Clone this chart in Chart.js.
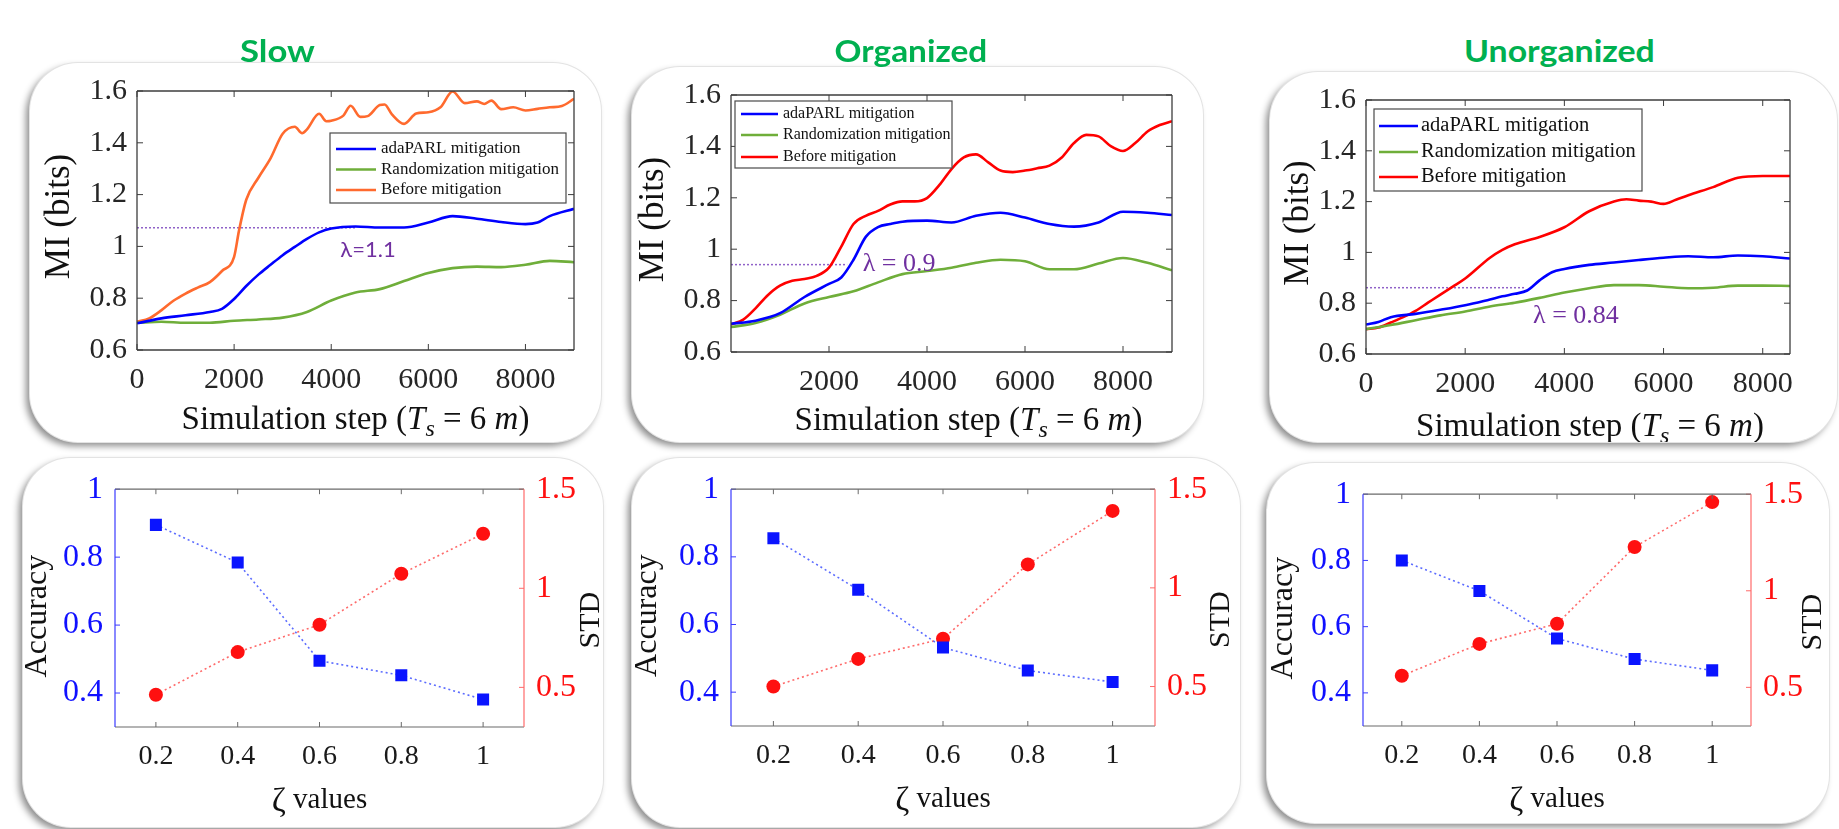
<!DOCTYPE html>
<html>
<head>
<meta charset="utf-8">
<title>MI and accuracy panels</title>
<script src="https://cdn.jsdelivr.net/npm/chart.js@4.4.1/dist/chart.umd.min.js"></script>
<style>
  html, body { margin: 0; background: #fff; }
  body { position: relative; width: 1839px; height: 829px; overflow: hidden; }
  .panel { position: absolute; background: #fff; border-radius: 48px; overflow: hidden;
           box-shadow: 0 0 0 1px #e3e3e3, -4px 4px 7px rgba(0,0,0,0.45); }
  .panel canvas { position: absolute; left: 0; top: 0; }
  .title { position: absolute; font: 700 31px Lato, sans-serif; color: #00B050; white-space: nowrap; transform-origin: center; }
</style>
</head>
<body>
<script>
const SERIF = "'Liberation Serif', serif";
Chart.defaults.font.family = SERIF;
Chart.defaults.color = '#262626';

// ---- top row: MI (bits) against simulation step ----
// Slow
const slowAdaSteps = [0, 500, 1000, 1500, 1750, 2000, 2250, 2500, 2750, 3000, 3250, 3500, 3750, 4000, 4500, 5000, 5500, 6000, 6500, 7000, 7500, 8000, 8250, 8500, 9000];
const slowAdaMI = [0.703, 0.722, 0.734, 0.747, 0.759, 0.797, 0.847, 0.891, 0.929, 0.966, 0.998, 1.029, 1.054, 1.069, 1.077, 1.073, 1.073, 1.092, 1.117, 1.107, 1.094, 1.086, 1.092, 1.117, 1.145];
const slowRndSteps = [0, 500, 1000, 1500, 2000, 2500, 3000, 3500, 4000, 4500, 5000, 5500, 6000, 6500, 7000, 7500, 8000, 8500, 9000];
const slowRndMI = [0.705, 0.709, 0.705, 0.705, 0.713, 0.718, 0.725, 0.747, 0.791, 0.822, 0.835, 0.866, 0.897, 0.916, 0.922, 0.92, 0.929, 0.944, 0.939];
const slowBeforeSteps = [0, 250, 500, 750, 1000, 1250, 1500, 1750, 2000, 2100, 2250, 2500, 2750, 3000, 3250, 3400, 3500, 3750, 3900, 4000, 4250, 4400, 4600, 4750, 5000, 5100, 5250, 5500, 5750, 6000, 6250, 6500, 6750, 7000, 7150, 7300, 7500, 7750, 8000, 8250, 8500, 8750, 9000];
const slowBeforeMI = [0.709, 0.722, 0.753, 0.79, 0.818, 0.841, 0.862, 0.905, 0.96, 1.06, 1.18, 1.265, 1.34, 1.435, 1.462, 1.437, 1.452, 1.512, 1.483, 1.485, 1.505, 1.543, 1.5, 1.503, 1.546, 1.548, 1.51, 1.473, 1.513, 1.518, 1.537, 1.598, 1.553, 1.56, 1.55, 1.563, 1.53, 1.537, 1.525, 1.531, 1.537, 1.542, 1.57];

// Organized
const orgAdaSteps = [0, 500, 1000, 1500, 2000, 2250, 2500, 2750, 3000, 3250, 3500, 4000, 4500, 5000, 5500, 6000, 6500, 7000, 7500, 8000, 8500, 9000];
const orgAdaMI = [0.71, 0.722, 0.751, 0.814, 0.865, 0.89, 0.959, 1.048, 1.086, 1.098, 1.107, 1.111, 1.104, 1.13, 1.142, 1.123, 1.098, 1.088, 1.104, 1.146, 1.142, 1.133];
const orgRndSteps = [0, 500, 1000, 1500, 2000, 2500, 3000, 3500, 4000, 4500, 5000, 5500, 6000, 6500, 7000, 7500, 8000, 8500, 9000];
const orgRndMI = [0.697, 0.713, 0.745, 0.789, 0.814, 0.836, 0.871, 0.903, 0.915, 0.928, 0.947, 0.959, 0.953, 0.922, 0.922, 0.944, 0.966, 0.947, 0.918];
const orgBeforeSteps = [0, 250, 500, 750, 1000, 1250, 1500, 1750, 2000, 2250, 2500, 2750, 3000, 3250, 3500, 3750, 4000, 4250, 4500, 4750, 5000, 5250, 5500, 5750, 6000, 6250, 6500, 6750, 7000, 7250, 7500, 7750, 8000, 8250, 8500, 8750, 9000];
const orgBeforeMI = [0.707, 0.726, 0.77, 0.821, 0.858, 0.877, 0.884, 0.896, 0.928, 1.01, 1.098, 1.13, 1.149, 1.174, 1.186, 1.186, 1.199, 1.249, 1.312, 1.357, 1.369, 1.338, 1.306, 1.3, 1.306, 1.315, 1.325, 1.357, 1.413, 1.445, 1.439, 1.401, 1.382, 1.413, 1.458, 1.483, 1.498];

// Unorganized
const unorgAdaSteps = [0, 250, 500, 1000, 1500, 2000, 2500, 2750, 3000, 3250, 3500, 3750, 4000, 4500, 5000, 5500, 6000, 6500, 7000, 7500, 8000, 8550];
const unorgAdaMI = [0.716, 0.726, 0.745, 0.758, 0.774, 0.792, 0.815, 0.827, 0.837, 0.85, 0.89, 0.922, 0.935, 0.951, 0.96, 0.97, 0.979, 0.985, 0.981, 0.988, 0.985, 0.976];
const unorgRndSteps = [0, 500, 1000, 1500, 2000, 2500, 3000, 3500, 4000, 4500, 5000, 5500, 6000, 6500, 7000, 7500, 8000, 8550];
const unorgRndMI = [0.698, 0.714, 0.733, 0.752, 0.767, 0.787, 0.802, 0.821, 0.842, 0.859, 0.871, 0.871, 0.865, 0.859, 0.861, 0.869, 0.869, 0.868];
const unorgBeforeSteps = [0, 250, 500, 750, 1000, 1250, 1500, 1750, 2000, 2500, 2750, 3000, 3500, 4000, 4500, 5000, 5250, 5500, 5750, 6000, 6250, 6500, 7000, 7500, 8000, 8550];
const unorgBeforeMI = [0.698, 0.704, 0.724, 0.745, 0.77, 0.802, 0.834, 0.865, 0.897, 0.979, 1.01, 1.032, 1.061, 1.099, 1.162, 1.2, 1.209, 1.204, 1.2, 1.191, 1.207, 1.225, 1.257, 1.294, 1.301, 1.301];

const stepMax = [9000, 9000, 8550];
const lambdaLevel = [1.072, 0.94, 0.861];
const lambdaEnd = [4500, 2370, 3210];
const lambdaText = ['λ=1.1', 'λ = 0.9', 'λ = 0.84'];
const lambdaSpot = [[4757, 0.985], [3430, 0.943], [4234, 0.747]];

// ---- bottom row: accuracy and STD against zeta ----
const zeta = [0.2, 0.4, 0.6, 0.8, 1];
const slowAccuracy = [0.895, 0.784, 0.495, 0.452, 0.381];
const slowStd = [0.463, 0.678, 0.816, 1.073, 1.275];
const orgAccuracy = [0.855, 0.703, 0.532, 0.464, 0.43];
const orgStd = [0.5, 0.64, 0.742, 1.119, 1.39];
const unorgAccuracy = [0.8, 0.708, 0.564, 0.502, 0.468];
const unorgStd = [0.56, 0.725, 0.829, 1.227, 1.459];

// ---- ticks and labels ----
const miTicks = [0.6, 0.8, 1, 1.2, 1.4, 1.6];
const stepTicks = [[0, 2000, 4000, 6000, 8000], [2000, 4000, 6000, 8000], [0, 2000, 4000, 6000, 8000]];
const zetaTicks = [0.2, 0.4, 0.6, 0.8, 1];
const accTicks = [0.4, 0.6, 0.8, 1];
const stdTicks = [0.5, 1, 1.5];
const seriesNames = ['adaPARL mitigation', 'Randomization mitigation', 'Before mitigation'];
const panelTitles = ['Slow', 'Organized', 'Unorganized'];

const miSeries = [
  { ada: [slowAdaSteps, slowAdaMI], rnd: [slowRndSteps, slowRndMI], before: [slowBeforeSteps, slowBeforeMI], beforeColor: '#ff6a2e' },
  { ada: [orgAdaSteps, orgAdaMI], rnd: [orgRndSteps, orgRndMI], before: [orgBeforeSteps, orgBeforeMI], beforeColor: '#ff0000' },
  { ada: [unorgAdaSteps, unorgAdaMI], rnd: [unorgRndSteps, unorgRndMI], before: [unorgBeforeSteps, unorgBeforeMI], beforeColor: '#ff0000' }
];
const zetaSeries = [[slowAccuracy, slowStd], [orgAccuracy, orgStd], [unorgAccuracy, unorgStd]];

// ---- layout (page pixels: left, top, right, bottom) ----
const topLayout = [
  { box: [30, 63, 601, 442], plot: [137, 85, 574, 350], yTitleDx: -77, xTitleDx: 0, xTitleDy: 70,
    legend: { dx: 193, dy: 42, w: 236, h: 70, rows: [16, 36.5, 57], x0: 6, x1: 46, tx: 51, size: 17 } },
  { box: [632, 67, 1203, 442], plot: [731, 87, 1172, 352], yTitleDx: -77, xTitleDx: 17, xTitleDy: 69,
    legend: { dx: 4, dy: 6, w: 217, h: 67, rows: [13, 34, 56], x0: 6, x1: 43, tx: 48, size: 16 } },
  { box: [1270, 72, 1837, 442], plot: [1366, 89, 1790, 354], yTitleDx: -67, xTitleDx: 12, xTitleDy: 73,
    legend: { dx: 8, dy: 9, w: 268, h: 82, rows: [17, 43, 68], x0: 5, x1: 44, tx: 47, size: 20.5 } }
];
const bottomLayout = [
  { box: [23, 458, 603, 827], plot: [115, 481, 524, 727], accDx: -77, stdDx: 67 },
  { box: [632, 458, 1240, 827], plot: [731, 486, 1155, 726], accDx: -83, stdDx: 66 },
  { box: [1267, 463, 1829, 823], plot: [1363, 483, 1751, 726], accDx: -79, stdDx: 62 }
];
const titleCenters = [277, 911, 1559];
const titleWidths = [75, 153, 191];

const pts = (xs, ys) => xs.map((x, i) => ({ x, y: ys[i] }));
const fixTicks = list => s => { s.ticks = list.map(v => ({ value: v })); };
const serifFont = size => ({ family: SERIF, size });

const anchorX = (a, k) => k === 'left' ? a.left : k === 'right' ? a.right : (a.left + a.right) / 2;
const anchorY = (a, k) => k === 'top' ? a.top : k === 'bottom' ? a.bottom : (a.top + a.bottom) / 2;

// frame, inward ticks, legend box and free text
const decor = {
  id: 'decor',
  afterDraw(chart) {
    const d = chart.canvas.decor;
    if (!d) return;
    const { ctx, chartArea: a, scales } = chart;
    const seg = (color, w, x1, y1, x2, y2) => {
      ctx.save();
      ctx.strokeStyle = color; ctx.lineWidth = w;
      ctx.beginPath(); ctx.moveTo(x1, y1); ctx.lineTo(x2, y2); ctx.stroke();
      ctx.restore();
    };
    const tl = d.tickLen;
    scales.x.ticks.forEach(t => {
      const px = scales.x.getPixelForValue(t.value);
      seg(d.frame, 1, px, a.top, px, a.top + tl);
      seg(d.frame, 1, px, a.bottom, px, a.bottom - tl);
    });
    scales.y.ticks.forEach(t => {
      const py = scales.y.getPixelForValue(t.value);
      seg(d.left, 1, a.left, py, a.left + tl, py);
      if (!scales.y2) seg(d.right, 1, a.right, py, a.right - tl, py);
    });
    if (scales.y2) scales.y2.ticks.forEach(t => {
      const py = scales.y2.getPixelForValue(t.value);
      seg(d.right, 1, a.right, py, a.right - tl, py);
    });
    seg(d.frame, d.fw, a.left, a.top, a.right, a.top);
    seg(d.frame, d.fw, a.left, a.bottom, a.right, a.bottom);
    seg(d.left, d.fw, a.left, a.top, a.left, a.bottom);
    seg(d.right, d.fw, a.right, a.top, a.right, a.bottom);

    if (d.legend) {
      const L = d.legend;
      const lx = a.left + L.dx, ly = a.top + L.dy;
      ctx.save();
      ctx.fillStyle = '#fff'; ctx.fillRect(lx, ly, L.w, L.h);
      ctx.strokeStyle = '#4a4a4a'; ctx.lineWidth = 1.2; ctx.strokeRect(lx, ly, L.w, L.h);
      ctx.restore();
      chart.data.datasets.slice(0, 3).forEach((ds, i) => {
        const yy = ly + L.rows[i];
        seg(ds.borderColor, 2.5, lx + L.x0, yy, lx + L.x1, yy);
        ctx.save();
        ctx.fillStyle = '#111'; ctx.font = L.size + 'px ' + SERIF;
        ctx.textAlign = 'left'; ctx.textBaseline = 'middle';
        ctx.fillText(ds.label, lx + L.tx, yy);
        ctx.restore();
      });
    }
    if (d.note) {
      ctx.save();
      ctx.fillStyle = d.note.color; ctx.font = d.note.font;
      ctx.textAlign = 'center'; ctx.textBaseline = 'middle';
      ctx.fillText(d.note.text, scales.x.getPixelForValue(d.note.x), scales.y.getPixelForValue(d.note.y));
      ctx.restore();
    }
    (d.texts || []).forEach(t => {
      ctx.save();
      ctx.translate(anchorX(a, t.ax) + t.dx, anchorY(a, t.ay) + t.dy);
      if (t.rot) ctx.rotate(t.rot);
      ctx.fillStyle = t.color || '#111';
      ctx.textBaseline = 'middle'; ctx.textAlign = 'left';
      let total = 0;
      t.parts.forEach(p => { ctx.font = p.font; p.w = ctx.measureText(p.text).width; total += p.w; });
      let x = -total / 2;
      t.parts.forEach(p => { ctx.font = p.font; ctx.fillText(p.text, x, p.dy || 0); x += p.w; });
      ctx.restore();
    });
  }
};

function makePanel(lay) {
  const [l, t, r, b] = lay.box;
  const div = document.createElement('div');
  div.className = 'panel';
  Object.assign(div.style, { left: l + 'px', top: t + 'px', width: (r - l) + 'px', height: (b - t) + 'px' });
  const cv = document.createElement('canvas');
  cv.width = r - l; cv.height = b - t;
  div.appendChild(cv);
  document.body.appendChild(div);
  const p = lay.plot;
  return { cv, pad: { left: p[0] - l, top: p[1] - t, right: r - p[2], bottom: b - p[3] } };
}

const simTitle = sz => [
  { text: 'Simulation step (', font: `${sz}px ${SERIF}` },
  { text: 'T', font: `italic ${sz}px ${SERIF}` },
  { text: 's', font: `italic ${Math.round(sz * 0.72)}px ${SERIF}`, dy: sz * 0.28 },
  { text: ' = 6 ', font: `${sz}px ${SERIF}` },
  { text: 'm', font: `italic ${sz}px ${SERIF}` },
  { text: ')', font: `${sz}px ${SERIF}` }
];

function miChart(i) {
  const lay = topLayout[i];
  const s = miSeries[i];
  const { cv, pad } = makePanel(lay);
  cv.decor = {
    tickLen: 6, fw: 1.3, frame: '#3c3c3c', left: '#3c3c3c', right: '#3c3c3c',
    legend: lay.legend,
    note: { text: lambdaText[i], x: lambdaSpot[i][0], y: lambdaSpot[i][1], color: '#7030a0',
            font: i === 0 ? '22px Lato, sans-serif' : `26px ${SERIF}` },
    texts: [
      { parts: [{ text: 'MI (bits)', font: `35px ${SERIF}` }], ax: 'left', dx: lay.yTitleDx, ay: 'mid', dy: -4, rot: -Math.PI / 2 },
      { parts: simTitle(33), ax: 'center', dx: lay.xTitleDx, ay: 'bottom', dy: lay.xTitleDy }
    ]
  };
  const line = (label, xy, color) => ({
    label, data: pts(xy[0], xy[1]), borderColor: color, borderWidth: 2.6,
    pointRadius: 0, fill: false, cubicInterpolationMode: 'monotone'
  });
  return new Chart(cv, {
    type: 'line',
    data: {
      datasets: [
        line(seriesNames[0], s.ada, '#0000ff'),
        line(seriesNames[1], s.rnd, '#6fae3a'),
        line(seriesNames[2], s.before, s.beforeColor),
        { label: 'lambda', data: [{ x: 0, y: lambdaLevel[i] }, { x: lambdaEnd[i], y: lambdaLevel[i] }],
          borderColor: '#9062c8', borderWidth: 1.5, borderDash: [2, 2], pointRadius: 0, tension: 0 }
      ]
    },
    options: {
      responsive: false, animation: false, events: [],
      font: { family: SERIF },
      layout: { padding: { left: 0, top: pad.top, right: pad.right, bottom: 0 } },
      scales: {
        x: {
          type: 'linear', min: 0, max: stepMax[i],
          afterBuildTicks: fixTicks(stepTicks[i]),
          afterFit: sc => { sc.height = pad.bottom; },
          grid: { display: false, drawTicks: false, tickLength: 0 }, border: { display: false },
          ticks: { padding: 12, maxRotation: 0, autoSkip: false, color: '#262626', font: serifFont(30), callback: v => String(v) }
        },
        y: {
          min: 0.6, max: 1.6,
          afterBuildTicks: fixTicks(miTicks),
          afterFit: sc => { sc.width = pad.left; },
          grid: { display: false, drawTicks: false, tickLength: 0 }, border: { display: false },
          ticks: { padding: 10, color: '#262626', font: serifFont(30), callback: v => String(v) }
        }
      },
      plugins: { legend: { display: false }, tooltip: { enabled: false } }
    },
    plugins: [decor]
  });
}

function zetaChart(i) {
  const lay = bottomLayout[i];
  const [acc, std] = zetaSeries[i];
  const { cv, pad } = makePanel(lay);
  cv.decor = {
    tickLen: 5, fw: 1.2, frame: '#6a6a6a', left: '#3a3aff', right: '#ff6a6a',
    texts: [
      { parts: [{ text: 'Accuracy', font: `32px ${SERIF}` }], ax: 'left', dx: lay.accDx, ay: 'mid', dy: 8, rot: -Math.PI / 2 },
      { parts: [{ text: 'STD', font: `30px ${SERIF}` }], ax: 'right', dx: lay.stdDx, ay: 'mid', dy: 12, rot: -Math.PI / 2 },
      { parts: [{ text: 'ζ', font: `34px ${SERIF}`, dy: 2 }, { text: ' values', font: `29px ${SERIF}` }], ax: 'center', dx: 0, ay: 'bottom', dy: 73 }
    ]
  };
  return new Chart(cv, {
    type: 'line',
    data: {
      datasets: [
        { label: 'Accuracy', data: pts(zeta, acc), yAxisID: 'y', borderColor: '#5c6cff', borderWidth: 1.6,
          borderDash: [2, 3], tension: 0, pointStyle: 'rect', pointRadius: 8.5,
          pointBackgroundColor: '#0a14ff', pointBorderWidth: 0 },
        { label: 'STD', data: pts(zeta, std), yAxisID: 'y2', borderColor: '#ff6a6a', borderWidth: 1.6,
          borderDash: [2, 3], tension: 0, pointStyle: 'circle', pointRadius: 7,
          pointBackgroundColor: '#ff1010', pointBorderWidth: 0 }
      ]
    },
    options: {
      responsive: false, animation: false, events: [],
      layout: { padding: { left: 0, top: pad.top, right: 0, bottom: 0 } },
      scales: {
        x: {
          type: 'linear', min: 0.1, max: 1.1,
          afterBuildTicks: fixTicks(zetaTicks),
          afterFit: sc => { sc.height = pad.bottom; },
          grid: { display: false, drawTicks: false, tickLength: 0 }, border: { display: false },
          ticks: { padding: 13, maxRotation: 0, autoSkip: false, color: '#1a1a1a', font: serifFont(28), callback: v => String(v) }
        },
        y: {
          position: 'left', min: 0.3, max: 1,
          afterBuildTicks: fixTicks(accTicks),
          afterFit: sc => { sc.width = pad.left; },
          grid: { display: false, drawTicks: false, tickLength: 0 }, border: { display: false },
          ticks: { padding: 12, color: '#1010ff', font: serifFont(32), callback: v => String(v) }
        },
        y2: {
          position: 'right', min: 0.3, max: 1.5,
          afterBuildTicks: fixTicks(stdTicks),
          afterFit: sc => { sc.width = pad.right; },
          grid: { display: false, drawTicks: false, tickLength: 0 }, border: { display: false },
          ticks: { padding: 12, color: '#ff1010', font: serifFont(32), callback: v => String(v) }
        }
      },
      plugins: { legend: { display: false }, tooltip: { enabled: false } }
    },
    plugins: [decor]
  });
}

[0, 1, 2].forEach(i => { miChart(i); zetaChart(i); });

// green panel titles
panelTitles.forEach((txt, i) => {
  const el = document.createElement('div');
  el.className = 'title';
  el.textContent = txt;
  document.body.appendChild(el);
  const w = el.offsetWidth, h = el.offsetHeight;
  el.style.left = (titleCenters[i] - w / 2) + 'px';
  el.style.top = (50 - h / 2) + 'px';
  el.style.transform = `scaleX(${titleWidths[i] / w})`;
});
</script>
</body>
</html>
